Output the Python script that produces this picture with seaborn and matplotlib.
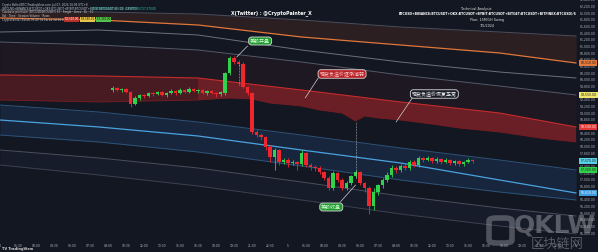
import numpy as np
import pandas as pd
import matplotlib
matplotlib.use("Agg")
import matplotlib.pyplot as plt
import matplotlib.transforms as mtransforms
from matplotlib.patches import FancyBboxPatch
import seaborn as sns

BG = "#131722"
sns.set_theme(style="dark", rc={"axes.facecolor": BG, "figure.facecolor": BG})
plt.rcParams["font.family"] = ["DejaVu Sans", "Noto Sans CJK SC"]
CJK = ["Noto Sans CJK SC", "DejaVu Sans"]

# ---------------- data ----------------
candle_t = list(range(25, 106))
opens = [59700, 59760, 59700, 59730, 59640, 59280, 59460, 59550, 59520, 59610,
         59580, 59640, 59550, 59610, 59670, 59610, 59700, 59640, 59730, 59670,
         59700, 59610, 59670, 59610, 59580, 59610, 60210, 60660, 60540, 60480,
         59790, 59610, 58440, 58350, 58290, 57990, 57690, 57900, 57540, 57600,
         57510, 57540, 57480, 57810, 57450, 57390, 57360, 57240, 57060, 56760,
         57210, 57000, 56760, 56910, 57120, 57240, 56910, 56760, 56220, 56640,
         56850, 57000, 57150, 57360, 57300, 57420, 57360, 57540, 57450, 57660,
         57600, 57660, 57570, 57630, 57540, 57600, 57510, 57570, 57480, 57540,
         57600]
highs = [59820, 59790, 59760, 59760, 59670, 59520, 59580, 59580, 59640, 59640,
         59670, 59670, 59640, 59730, 59700, 59760, 59730, 59790, 59760, 59730,
         59730, 59700, 59700, 59640, 59670, 60240, 60720, 60720, 60600, 60540,
         59820, 59640, 58500, 58410, 58320, 58050, 57960, 57930, 57660, 57660,
         57600, 57570, 57900, 57840, 57510, 57450, 57420, 57270, 57120, 57270,
         57240, 57060, 56970, 57150, 57300, 57270, 56940, 56820, 56760, 56880,
         57060, 57240, 57450, 57420, 57480, 57480, 57600, 57600, 57720, 57690,
         57720, 57690, 57690, 57660, 57660, 57630, 57600, 57600, 57570, 57660,
         57630]
lows = [59640, 59670, 59640, 59610, 59190, 59250, 59400, 59460, 59490, 59520,
        59550, 59520, 59490, 59580, 59550, 59580, 59610, 59610, 59640, 59610,
        59580, 59550, 59580, 59490, 59520, 59550, 60150, 60480, 60420, 59760,
        59550, 58380, 58290, 58200, 57900, 57540, 57300, 57450, 57480, 57390,
        57450, 57300, 57420, 57390, 57300, 57270, 57180, 57000, 56700, 56700,
        56940, 56700, 56700, 56850, 57060, 56850, 56640, 55980, 56100, 56550,
        56760, 56940, 57090, 57210, 57240, 57300, 57300, 57390, 57390, 57540,
        57570, 57510, 57510, 57480, 57510, 57450, 57450, 57420, 57420, 57510,
        57510]
closes = [59760, 59700, 59730, 59640, 59280, 59460, 59550, 59520, 59610, 59580,
          59640, 59550, 59610, 59670, 59610, 59700, 59640, 59730, 59670, 59700,
          59610, 59670, 59610, 59580, 59640, 60210, 60660, 60540, 60480, 59790,
          59610, 58440, 58350, 58290, 57990, 57690, 57900, 57540, 57600, 57510,
          57540, 57480, 57810, 57450, 57390, 57360, 57240, 57060, 56760, 57210,
          57000, 56760, 56910, 57120, 57240, 56910, 56760, 56220, 56640, 56850,
          57000, 57150, 57360, 57300, 57420, 57360, 57540, 57450, 57660, 57600,
          57660, 57570, 57630, 57540, 57600, 57510, 57570, 57480, 57540, 57600,
          57570]

band_t = [0, 22, 44, 67, 89, 111, 128]
top_line = [62100, 62040, 61980, 61800, 61590, 61440, 61320]
orange_line = [61860, 61800, 61650, 61290, 61050, 60810, 60510]
grey_c = [61440, 61500, 61350, 60900, 60540, 60240, 60060]
grey_d = [61140, 61050, 60900, 60540, 60150, 59820, 59550]
red_top = [60150, 60120, 60060, 59700, 59340, 59010, 58590]
red_bot_t = [0, 22, 44, 51, 56, 60, 67, 71, 76, 79, 81, 84, 89, 96, 102, 111, 120, 128]
red_bot = [59400, 59340, 59400, 59460, 59430, 59310, 59220, 59100, 59010, 58770,
           58920, 58860, 58800, 58680, 58560, 58440, 58260, 58140]
blue_top = [59250, 59040, 58740, 58350, 57960, 57600, 57300]
blue_mid = [58800, 58590, 58320, 57900, 57510, 57000, 56610]
blue_bot = [58350, 58140, 57840, 57420, 57000, 56640, 56400]
grey_e = [57900, 57660, 57360, 56940, 56520, 56160, 55920]
grey_f = [57450, 57150, 56820, 56400, 55980, 55620, 55380]

time_ticks = list(range(0, 129, 4))
time_labels = ["4", "01:30", "03:00", "04:30", "06:00", "07:30", "09:00", "10:30",
               "12:00", "13:30", "15:00", "16:30", "18:00", "19:30", "21:00", "22:30",
               "5", "01:30", "03:00", "04:30", "06:00", "07:30", "09:00", "10:30",
               "12:00", "13:30", "15:00", "16:30", "18:00", "19:30", "21:00", "22:30",
               "6"]
price_ticks = list(range(55400, 62401, 200))

# ---------------- figure ----------------
W, H = 598, 252
fig = plt.figure(figsize=(W / 100, H / 100), dpi=100)
ax = fig.add_axes([0, 14 / H, 577 / W, 238 / H])
ax.set_facecolor(BG)
ax.set_xlim(0, 128.2)
ax.set_ylim(55260, 62400)

df_band = pd.DataFrame({"t": band_t, "top": top_line, "orange": orange_line,
                        "c": grey_c, "d": grey_d, "rtop": red_top,
                        "btop": blue_top, "bmid": blue_mid, "bbot": blue_bot,
                        "e": grey_e, "f": grey_f})

# fills
ax.fill_between(band_t, top_line, orange_line, color="#4a2a22", alpha=0.45, lw=0)
ax.fill_between(band_t, grey_d, red_top, color="#3a1c22", alpha=0.30, lw=0)
# red band: left (older) part darker, right part brighter
lx = band_t[:3] + red_bot_t[:3][::-1]
ly = red_top[:3] + red_bot[:3][::-1]
ax.fill(lx, ly, color="#8a2026", alpha=0.45, lw=0)
rx = band_t[2:] + red_bot_t[2:][::-1]
ry = red_top[2:] + red_bot[2:][::-1]
ax.fill(rx, ry, color="#a52428", alpha=0.6, lw=0)
ax.fill_between(band_t, blue_top, blue_bot, color="#1d3a5c", alpha=0.45, lw=0)
ax.fill_between(band_t, grey_e, grey_f, color="#1b2030", alpha=0.6, lw=0)

line_specs = [("top", "#4b4e5c", 0.7), ("orange", "#e0763a", 0.9), ("c", "#6d707c", 0.7),
              ("d", "#555968", 0.7), ("rtop", "#c52c2c", 0.8), ("btop", "#2e5378", 0.7),
              ("bmid", "#4aa3df", 0.9), ("bbot", "#2e5378", 0.7), ("e", "#4a4f5e", 0.7),
              ("f", "#3c4150", 0.7)]
for col, colr, lw in line_specs:
    sns.lineplot(data=df_band, x="t", y=col, ax=ax, color=colr, lw=lw, legend=False)
sns.lineplot(x=red_bot_t, y=red_bot, ax=ax, color="#7a1c22", lw=0.6, legend=False)

# candles
GREEN, RED = "#2fd24a", "#f0262e"
o = np.array(opens); c = np.array(closes)
cols = [GREEN if cc >= oo else RED for oo, cc in zip(o, c)]
ax.vlines(candle_t, lows, highs, colors=cols, lw=0.6, zorder=3)
ax.bar(candle_t, np.abs(c - o) + 8, bottom=np.minimum(o, c), width=0.8,
       color=cols, lw=0, zorder=4)

# dotted verticals
ax.vlines([53, 79], [59850, 57060], [60510, 58740], colors="#c8c8c8",
          linestyles=(0, (1, 1.2)), lw=0.5, zorder=5)

# axis styling
ax.yaxis.tick_right()
ax.set_yticks(price_ticks)
ax.set_yticklabels([f"{v:,.2f}" for v in price_ticks], fontsize=2.2, color="#b2b5be")
ax.set_xticks(time_ticks)
ax.set_xticklabels(time_labels, fontsize=2.2, color="#b2b5be")
ax.tick_params(axis="y", length=0, pad=2)
ax.tick_params(axis="x", length=0, pad=4)
ax.set_xlabel(""); ax.set_ylabel("")
ax.grid(False)
for s in ax.spines.values():
    s.set_visible(False)

# price tags
tr = mtransforms.blended_transform_factory(ax.transAxes, ax.transData)
tags = [(orange_line[-1], "#e57a3c", "#1a1a1a"), (grey_d[-1], "#f2e66a", "#1a1a1a"),
        (red_top[-1], "#e53935", "#ffffff"), (closes[-1], "#59d0e6", "#1a1a1a"),
        (blue_top[-1], "#2fd24a", "#1a1a1a"), (blue_mid[-1], "#3d9be0", "#ffffff")]
for val, fc, tc in tags:
    ax.text(1.006, val, f"{val:,.2f}", transform=tr, fontsize=2.2, color=tc,
            va="center", ha="left", clip_on=False, zorder=10,
            bbox=dict(boxstyle="square,pad=0.35", fc=fc, ec="none"))

# annotations
def callout(text, cx, cy, fc, ec, tc, x0, y0, x1, y1):
    ax.plot([x0, x1], [y0, y1], color="#d0d0d0", lw=0.5, zorder=6)
    ax.text(cx, cy, text, fontsize=3.6, color=tc, ha="center", va="center",
            family=CJK, zorder=7,
            bbox=dict(boxstyle="round,pad=0.3,rounding_size=0.6", fc=fc, ec=ec, lw=0.6))

callout("美股开盘", 57.8, 61170, "#1f9a2e", "#d8d8d8", "#d9ffd9", 55.0, 61020, 52.6, 60690)
callout("现货负溢价逐渐减弱", 76.0, 60180, "#b81d22", "#d8d8d8", "#ffd6d6", 70.7, 60060, 67.8, 59460)
callout("现货负溢价恢复正常", 96.5, 59580, "#1a1d27", "#d8d8d8", "#ffffff", 91.6, 59460, 88.0, 58740)
callout("美股收盘", 73.6, 56190, "#1f9a2e", "#d8d8d8", "#d9ffd9", 75.6, 56340, 79.0, 56850)

# ---------------- header / footer texts ----------------
def ftext(x, y, s, **kw):
    fig.text(x / W, 1 - y / H, s, va="center", **kw)

ftext(271, 13, "X(Twitter) : @CryptoPainter_X", fontsize=3.4, color="#ffffff",
      ha="center", weight="bold")
ftext(476, 9, "Technical Analysis", fontsize=2.4, color="#e0e0e0", ha="center")
ftext(488, 14, "BTCUSD+BINANCE:BTCUSDT+OKX:BTCUSDT+BYBIT:BTCUSDT+BITGET:BTCUSDT+BITFINEX:BTCUSD)/6",
      fontsize=2.25, color="#ffffff", ha="center", weight="bold")
ftext(487, 20, "Plan: 15M/1H Swing", fontsize=2.4, color="#e0e0e0", ha="center")
ftext(487, 26, "7/5/2024", fontsize=2.4, color="#e0e0e0", ha="center")

ftext(2, 5, "Crypto Ballet(BTC)TradingView.com, Jul 07, 2024 16:08 UTC+8", fontsize=2.0,
      color="#c8c8c8", ha="left")
ftext(2, 9, "(BTCUSD+BINANCE:BTCUSDT+OKX:BTCUSDT+BYBIT:BTCUSDT+BITGET:BTCUSDT)/6 · 15 · CRYPTO",
      fontsize=2.0, color="#c8c8c8", ha="left")
ftext(92, 9, "O57,600.00 H57,630.00 L57,510.00 C57,570.00", fontsize=2.0, color="#30d0c0", ha="left")
ftext(2, 12.5, "Coinbase premium (BTCUSD/BTCUSDT) 15 · Single · Lines · 1h · 10", fontsize=2.0,
      color="#c8c8c8", ha="left")
ftext(2, 16, "Vol · Time · Session Volume · Rows", fontsize=2.0, color="#c8c8c8", ha="left")
ftext(2, 19.5, "CryptoPainter Bands 96 40 7d 1w 1d 3d 14 4h", fontsize=2.0, color="#c8c8c8", ha="left")
ftext(64, 19.5, " 60,510.00 ", fontsize=2.0, color="#ffffff", ha="left",
      bbox=dict(boxstyle="square,pad=0.1", fc="#b7322a", ec="none"))
ftext(80, 19.5, " 59,550.00 ", fontsize=2.0, color="#111111", ha="left",
      bbox=dict(boxstyle="square,pad=0.1", fc="#e8c64a", ec="none"))
ftext(96, 19.5, " 57,300.00 ", fontsize=2.0, color="#111111", ha="left",
      bbox=dict(boxstyle="square,pad=0.1", fc="#55c04a", ec="none"))

ftext(2, 249, "TV TradingView", fontsize=2.6, color="#d0d0d0", ha="left", weight="bold")

# watermark
logo = FancyBboxPatch((489 / W, 1 - 243 / H), 23 / W, 25 / H,
                      boxstyle="round,pad=0.0,rounding_size=0.012",
                      transform=fig.transFigure, fc="none", ec="#9a9ca4", lw=4, alpha=0.45)
fig.patches.append(logo)
ftext(555, 226, "QKLW", fontsize=18, color="#a9abb2", ha="center", weight="bold", alpha=0.45)
ftext(557, 244, "区块链网", fontsize=9.5, color="#a9abb2", ha="center", family=CJK, alpha=0.45)

fig.savefig("out.png", dpi=100, facecolor=BG)
